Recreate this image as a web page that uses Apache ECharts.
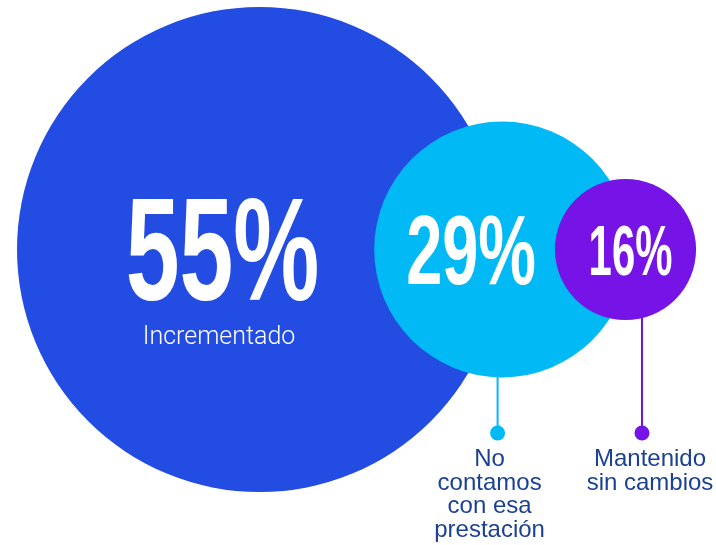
<!DOCTYPE html>
<html>
<head>
<meta charset="utf-8">
<title>Burbujas</title>
<script src="https://cdn.jsdelivr.net/npm/echarts/dist/echarts.min.js"></script>
<style>
  html, body { margin: 0; padding: 0; background: #fff; }
  #main { width: 716px; height: 545px; }
</style>
</head>
<body>
<div id="main"></div>
<script>
    // datos
    var categories = ['Incrementado', 'No\ncontamos\ncon esa\nprestación', 'Mantenido\nsin cambios'];
    var values = [55, 29, 16];
    var valueLabels = ['55%', '29%', '16%'];

    // estilo / layout
    var colors = ['#234ce2', '#00b9f5', '#7614e8'];
    var textColor = '#1b4094';
    var radiusPerPoint = 4.41;     // radio (px) por punto porcentual
    var startX = 17, centerY = 249.5, dotY = 433;
    var centerNudge = [0, 0, -4.5];
    var pctDx = [-37, -31, 5];
    var pctDy = [10, 7, 6];
    var pctSize = [146, 99, 70];
    var pctScale = [0.663, 0.655, 0.598];
    var stemDx = [0, -4.5, 16.5];
    var labelDx = [0, -8, 8];

    // centros: cada circulo empieza donde acaba el radio del anterior
    var centers = [];
    values.forEach(function (v, i) {
        var r = v * radiusPerPoint;
        if (i === 0) centers.push(startX + r);
        else centers.push(centers[i - 1] + values[i - 1] * radiusPerPoint + centerNudge[i]);
    });

    var seriesData = values.map(function (v, i) {
        return [centers[i], centerY, v, i];
    });

    var myChart = echarts.init(document.getElementById('main'));

    var option = {
        animation: false,
        backgroundColor: '#fff',
        grid: { left: 0, right: 0, top: 0, bottom: 0 },
        xAxis: { type: 'value', min: 0, max: 716, show: false },
        yAxis: { type: 'value', min: 0, max: 545, inverse: true, show: false },
        series: [{
            type: 'custom',
            coordinateSystem: 'cartesian2d',
            data: seriesData,
            renderItem: function (params, api) {
                var i = api.value(3);
                var c = api.coord([api.value(0), api.value(1)]);
                var r = api.size([api.value(2) * radiusPerPoint, 0])[0];
                var children = [];

                if (i > 0) {
                    var sx = c[0] + stemDx[i];
                    var dy = api.coord([0, dotY])[1];
                    var y0 = c[1] + Math.sqrt(r * r - stemDx[i] * stemDx[i]) - 2;
                    children.push({
                        type: 'line',
                        shape: { x1: sx, y1: y0, x2: sx, y2: dy },
                        style: { stroke: colors[i], lineWidth: 2 }
                    });
                    children.push({
                        type: 'circle',
                        shape: { cx: sx, cy: dy, r: 7.5 },
                        style: { fill: colors[i] }
                    });
                    children.push({
                        type: 'text',
                        style: {
                            text: categories[i],
                            x: sx + labelDx[i], y: dy + 15,
                            fill: textColor,
                            fontFamily: 'Liberation Sans',
                            fontSize: 24,
                            lineHeight: 23.5,
                            align: 'center',
                            verticalAlign: 'top'
                        }
                    });
                }

                children.push({
                    type: 'circle',
                    shape: { cx: c[0], cy: c[1], r: r },
                    style: { fill: colors[i] }
                });

                children.push({
                    type: 'text',
                    x: c[0] + pctDx[i],
                    y: c[1] + pctDy[i],
                    scaleX: pctScale[i],
                    style: {
                        text: valueLabels[i],
                        x: 0, y: 0,
                        fill: '#fff',
                        fontFamily: 'Liberation Sans',
                        fontWeight: 'bold',
                        fontSize: pctSize[i],
                        align: 'center',
                        verticalAlign: 'middle'
                    }
                });

                if (i === 0) {
                    children.push({
                        type: 'text',
                        style: {
                            text: categories[i],
                            x: c[0] - 40.5, y: c[1] + 88.5,
                            fill: '#fff',
                            fontFamily: 'Roboto',
                            fontWeight: 300,
                            fontSize: 25,
                            align: 'center',
                            verticalAlign: 'middle'
                        }
                    });
                }

                return { type: 'group', children: children };
            }
        }]
    };

    myChart.setOption(option);
</script>
</body>
</html>
